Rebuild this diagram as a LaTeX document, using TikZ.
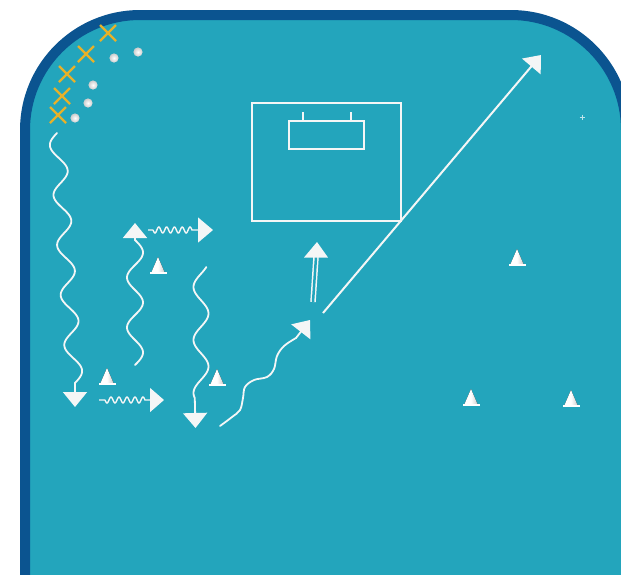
\documentclass[tikz,border=0pt]{standalone}
\usetikzlibrary{arrows.meta,calc}
\definecolor{fieldteal}{HTML}{23A5BC}
\definecolor{fieldblue}{HTML}{0B5490}
\definecolor{markgold}{HTML}{E6B12A}
\definecolor{chalk}{HTML}{F4F6F6}
\begin{document}
\begin{tikzpicture}[x=1pt,y=-1pt,
  runline/.style={draw=chalk, line width=1.8pt, line cap=round},
  bigtip/.style={-{Triangle[length=15pt,width=24pt]}},
  squig/.style={draw=chalk, line width=1.4pt},
  chalkline/.style={draw=chalk, line width=1.8pt},
  xmark/.style={draw=markgold, line width=2.3pt},
  cone/.pic={
    \fill[left color=white, right color=gray!40, middle color=white] (0,-15) -- (6.5,0) -- (-6.5,0) -- cycle;
    \fill[white] (-8.5,-0.5) rectangle (8.5,1.6);
  },
  ballpic/.pic={\shade[inner color=white, outer color=gray!40] (0,0) circle (4.6);},
  xpic/.pic={\draw[xmark] (-8,-8) -- (8,8) (-8,8) -- (8,-8);}
]
\useasboundingbox (0,0) rectangle (621,574);
\clip (0,0) rectangle (621,574);
\fill[white] (0,0) rectangle (621,574);
% field
\filldraw[fill=fieldteal, draw=fieldblue, line width=10pt, rounded corners=115pt]
  (25,15) rectangle (626,720);

% player marks (X) and balls
\pic (x1) at (108,33) {xpic};
\pic (x2) at (86,54) {xpic};
\pic (x3) at (67,74) {xpic};
\pic (x4) at (62,96) {xpic};
\pic (x5) at (58,115) {xpic};
\pic (b1) at (138,52) {ballpic};
\pic (b2) at (114,58) {ballpic};
\pic (b3) at (93,85) {ballpic};
\pic (b4) at (88,103) {ballpic};
\pic (b5) at (75,118) {ballpic};

% goal
\coordinate (g1) at (252,103);
\coordinate (g2) at (401,221);
\coordinate (h1) at (289,121);
\coordinate (h2) at (364,149);
\draw[chalkline] (g1) rectangle (g2);
\draw[chalkline] (h1) rectangle (h2);
\draw[chalkline] (303,112) -- (303,121) (351,112) -- (351,121);

% cones
\pic (c1) at (158,272) {cone};
\pic (c2) at (107,383) {cone};
\pic (c3) at (217,384) {cone};
\pic (c4) at (517,264) {cone};
\pic (c5) at (471,404) {cone};
\pic (c6) at (571,405) {cone};

% wavy runs
\coordinate (La) at (57,133);
\coordinate (Lb) at (75,407);
\draw[runline, bigtip] plot[domain=0:250, samples=160, smooth]
  ({57+0.072*\x-8*sin(\x*7.2)}, {133+\x}) -- (Lb);

\coordinate (Ma) at (135,365);
\coordinate (Mb) at (135,223);
\draw[runline, bigtip] plot[domain=0:125, samples=90, smooth]
  ({135+8*sin(\x*7.2)}, {365-\x}) -- (Mb);

\coordinate (Ra) at (206,267);
\coordinate (Rb) at (195.5,428);
\draw[runline, bigtip] plot[domain=267:398, samples=90, smooth]
  ({201-7.5*cos((\x-287)*6.7925)}, {\x}) -- (Rb);

\coordinate (Da) at (220,426);
\coordinate (Db) at (310,320);
\draw[runline, bigtip] plot[smooth, tension=0.6] coordinates {
  (220,426) (232,417) (240,410) (243,398) (245,387) (254,380) (267,377)
  (274,369) (277,356) (284,346) (296,338)} -- (Db);

% dribbles
\coordinate (Qa) at (148,230);
\coordinate (Qb) at (213,230);
\draw[squig, -{Triangle[length=15pt,width=25pt]}] (Qa) -- (153,230)
  plot[domain=153:192, samples=80, smooth] ({\x}, {230+3*sin((\x-153)*46.154)}) -- (Qb);
\coordinate (Pa) at (99,400);
\coordinate (Pb) at (164,400);
\draw[squig, -{Triangle[length=14pt,width=24pt]}] (Pa) -- (105,400)
  plot[domain=105:145, samples=80, smooth] ({\x}, {400+3*sin((\x-105)*45)}) -- (Pb);

% pass
\coordinate (Sa) at (323,313);
\coordinate (Sb) at (541,55);
\draw[chalkline, line width=2pt, bigtip] (Sa) -- (Sb);

% shot (double line)
\coordinate (Ea) at (313,302);
\coordinate (Eb) at (316,257);
\coordinate (Ec) at (317,242);
\draw[draw=chalk, double=fieldteal, double distance=2.5pt, line width=1.5pt] (Ea) -- (Eb);
\fill[chalk] ($(Eb)+(-12,0.5)$) -- ($(Eb)+(12,0.5)$) -- (Ec) -- cycle;

% sparkle
\draw[white, opacity=0.7, line width=0.8pt] (579.5,117) -- (584.5,117) (582,114.5) -- (582,119.5);
\end{tikzpicture}
\end{document}
